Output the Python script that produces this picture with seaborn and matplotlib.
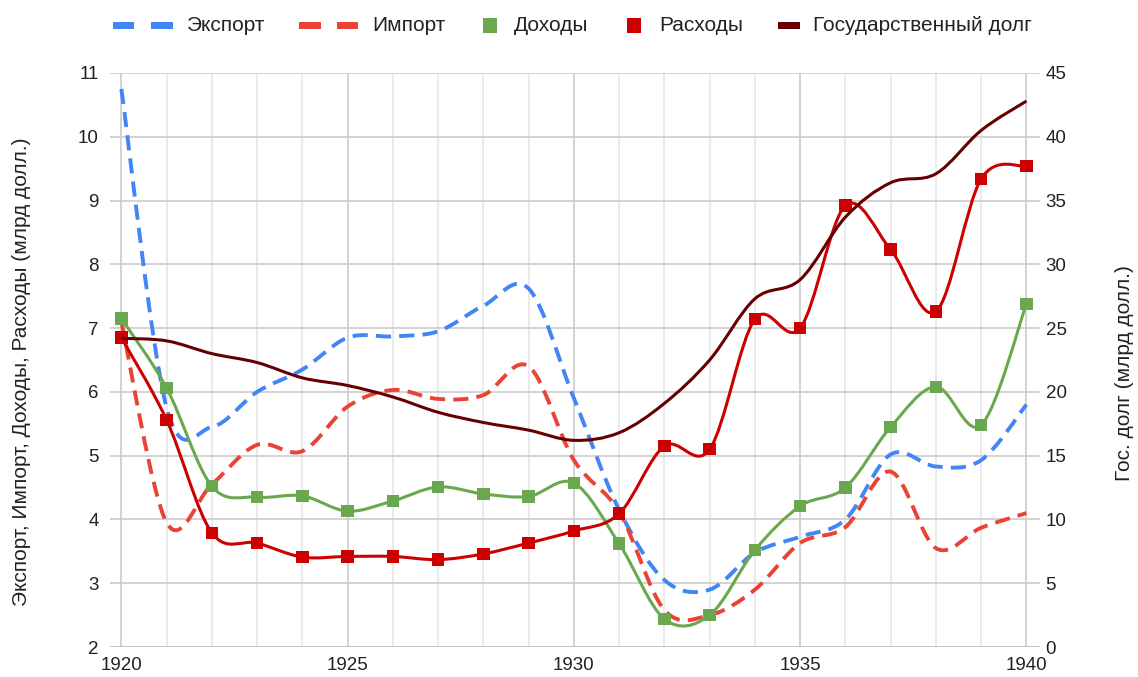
#libraries

import matplotlib.pyplot as plt
import seaborn as sns
import pandas as pd
from matplotlib.path import Path
from matplotlib.patches import PathPatch, Rectangle

# data (млрд долл.)
years = list(range(1920, 1941))
export = [10.75, 5.75, 5.45, 6.0, 6.35, 6.85, 6.87, 6.95, 7.35, 7.62, 5.9, 4.15, 3.05, 2.9, 3.48, 3.73, 4.0, 5.02, 4.83, 4.93, 5.8]
imports = [7.1, 3.95, 4.55, 5.17, 5.07, 5.77, 6.03, 5.89, 5.95, 6.4, 4.93, 4.12, 2.58, 2.5, 2.9, 3.63, 3.88, 4.75, 3.55, 3.87, 4.1]
income = [7.15, 6.06, 4.52, 4.35, 4.37, 4.13, 4.29, 4.51, 4.4, 4.36, 4.57, 3.62, 2.44, 2.5, 3.52, 4.21, 4.5, 5.45, 6.08, 5.48, 7.38]
spending = [6.85, 5.56, 3.79, 3.63, 3.41, 3.42, 3.42, 3.37, 3.46, 3.63, 3.82, 4.09, 5.15, 5.1, 7.14, 7.0, 8.92, 8.23, 7.26, 9.34, 9.54]
debt = [24.2, 24.0, 23.0, 22.3, 21.1, 20.5, 19.6, 18.4, 17.6, 17.0, 16.2, 16.8, 19.1, 22.5, 27.3, 28.8, 33.7, 36.4, 37.1, 40.5, 42.8]

labels = ['Экспорт', 'Импорт', 'Доходы', 'Расходы', 'Государственный долг']

df = pd.DataFrame({'year': years, 'export': export, 'import': imports,
                   'income': income, 'spending': spending, 'debt': debt})

c_exp, c_imp, c_inc, c_spd, c_debt = '#4285F4', '#EA4335', '#6AA84F', '#CC0000', '#660000'

sns.set_theme(style='white')
plt.rcParams['font.family'] = ['Liberation Sans', 'DejaVu Sans']

W, H = 1138, 677


def smooth(x, y, t=1/6):
    # bezier curve through the points (like google "function" curves)
    x, y = list(x), list(y)
    n = len(x)
    verts, codes = [(x[0], y[0])], [Path.MOVETO]
    for i in range(n - 1):
        xa, ya = (x[i-1], y[i-1]) if i > 0 else (x[i], y[i])
        xb, yb = (x[i+2], y[i+2]) if i + 2 < n else (x[i+1], y[i+1])
        verts += [(x[i] + (x[i+1] - xa) * t, y[i] + (y[i+1] - ya) * t),
                  (x[i+1] - (xb - x[i]) * t, y[i+1] - (yb - y[i]) * t),
                  (x[i+1], y[i+1])]
        codes += [Path.CURVE4] * 3
    return Path(verts, codes)


fig = plt.figure(figsize=(W / 100, H / 100), dpi=100)
ax = fig.add_axes([0.0967, 0.0443, 0.8172, 0.8479])
ax2 = ax.twinx()

# grid
for yr in years:
    major = (yr % 5 == 0)
    ax.axvline(yr, color='#cccccc' if major else '#e6e6e6', lw=1.2, zorder=0)
for v in range(3, 12):
    ax.axhline(v, color='#cccccc', lw=1.2, zorder=0)
ax.axhline(2, color='#bbbbbb', lw=1.2, zorder=0)

dash = (0, (3.9, 2.1))
ax.add_patch(PathPatch(smooth(df.year, df.export), fill=False, ec=c_exp, lw=2.8, ls=dash, capstyle='butt', zorder=3))
ax.add_patch(PathPatch(smooth(df.year, df['import']), fill=False, ec=c_imp, lw=2.8, ls=dash, capstyle='butt', zorder=3))
ax.add_patch(PathPatch(smooth(df.year, df.income), fill=False, ec=c_inc, lw=2.2, zorder=4))
ax.add_patch(PathPatch(smooth(df.year, df.spending), fill=False, ec=c_spd, lw=2.2, zorder=4))
sns.scatterplot(data=df, x='year', y='income', marker='s', s=80, color=c_inc, edgecolor='none', ax=ax, zorder=5)
sns.scatterplot(data=df, x='year', y='spending', marker='s', s=80, color=c_spd, edgecolor='none', ax=ax, zorder=5)

ax2.add_patch(PathPatch(smooth(df.year, df.debt), fill=False, ec=c_debt, lw=2.2, zorder=4))

ax.set_xlim(1919.75, 1940.3)
ax.set_ylim(2, 11)
ax2.set_ylim(0, 45)
ax.set_xticks([1920, 1925, 1930, 1935, 1940])
ax.set_yticks(range(2, 12))
ax2.set_yticks(range(0, 50, 5))
for a in (ax, ax2):
    for s in a.spines.values():
        s.set_visible(False)
    a.tick_params(length=0, labelsize=13.5, colors='#222222')
ax.tick_params(axis='x', pad=7)
ax.tick_params(axis='y', pad=8)
ax2.tick_params(axis='y', pad=4)
ax.set_xlabel('')
ax.set_ylabel('')
ax2.set_ylabel('')

# axis titles
fig.text(22 / W, 1 - 372 / H, 'Экспорт, Импорт, Доходы, Расходы (млрд долл.)', rotation=90,
         ha='center', va='center', fontsize=15, color='#222222')
fig.text(1125 / W, 1 - 373 / H, 'Гос. долг (млрд долл.)', rotation=90,
         ha='center', va='center', fontsize=15, color='#222222')


# legend drawn by hand (google style)
def block(x0, x1, y0, y1, color):
    fig.add_artist(Rectangle((x0 / W, 1 - y1 / H), (x1 - x0) / W, (y1 - y0) / H,
                             transform=fig.transFigure, color=color, lw=0))


block(113, 134, 22, 29, c_exp)
block(151, 173, 22, 29, c_exp)
block(299, 321, 22, 29, c_imp)
block(337, 358, 22, 29, c_imp)
block(483, 497, 18, 33, c_inc)
block(627, 641, 18, 33, c_spd)
block(778, 800, 22, 29, c_debt)
for x, lab in zip([187, 372, 514, 659, 813], labels):
    fig.text(x / W, 1 - 25.5 / H, lab, ha='left', va='center', fontsize=15, color='#222222')

plt.savefig('out.png', dpi=100)
